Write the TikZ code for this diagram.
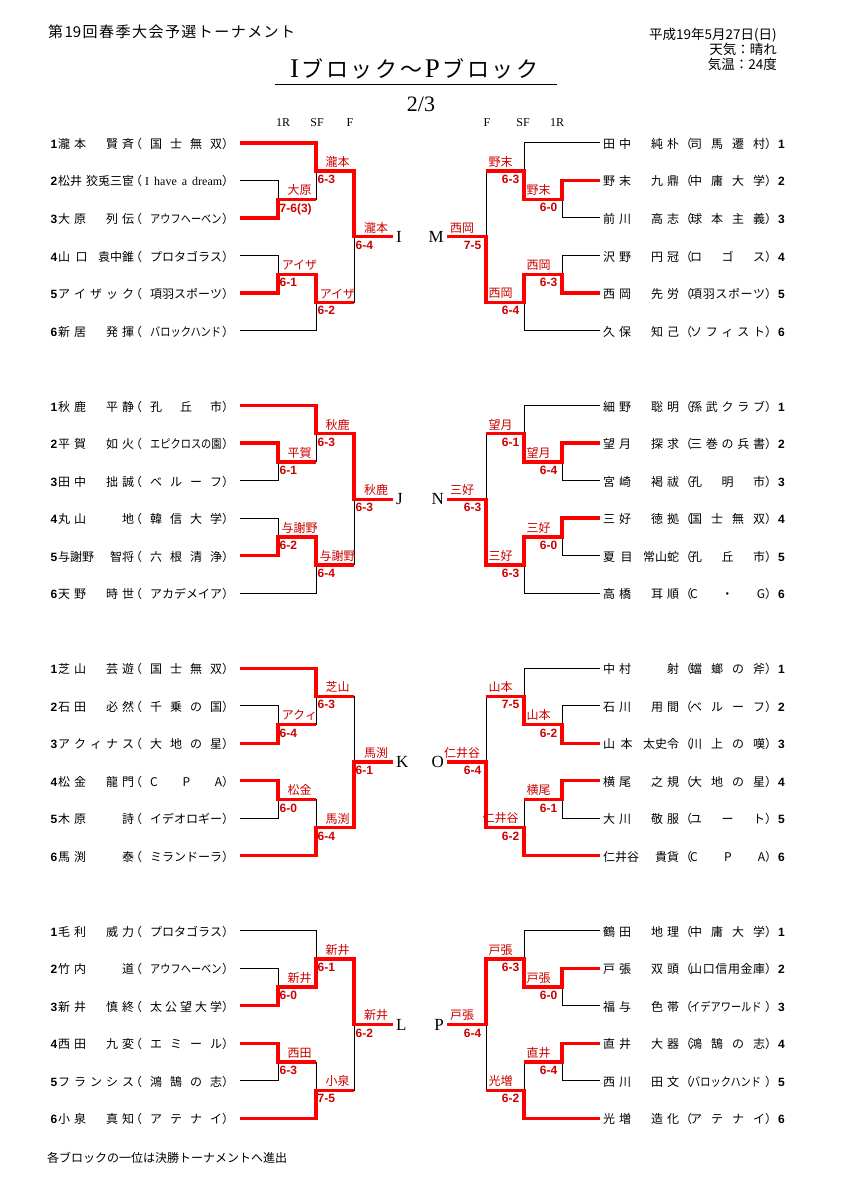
\documentclass[tikz,border=0pt]{standalone}
\usepackage{fontspec}
\usepackage{graphicx}
\setmainfont{Noto Sans CJK JP}
\newfontfamily\jp{Noto Sans CJK JP}
\newfontfamily\numfont{Liberation Sans}
\newfontfamily\rmlatin{Liberation Serif}
\usetikzlibrary{positioning,calc}
\definecolor{lineRed}{HTML}{FF0000}
\definecolor{lblRed}{HTML}{CC0000}

% characters spread evenly over a fixed width
\def\distribEnd{DISTRIBEND}
\newcommand\distrib[2]{\makebox[#1pt][s]{\distribA#2\distribEnd}}
\def\distribA#1{{#1}\distribB}
\def\distribB#1{\ifx\distribEnd#1\else\hfill{#1}\expandafter\distribB\fi}
\newcommand\sev[1]{\scalebox{0.85}[1]{#1}}
\newcommand\titlelatin{\rmlatin\fontsize{27}{30}\selectfont}

\tikzset{
  player/.style={inner sep=0pt, font=\jp\fontsize{12}{14}\selectfont},
  seednum/.style={inner sep=0pt, font=\numfont\bfseries\fontsize{12}{14}\selectfont},
  winner/.style={inner sep=0pt, text=lblRed, font=\jp\fontsize{12}{14}\selectfont},
  score/.style={inner sep=0pt, text=lblRed, font=\numfont\bfseries\fontsize{12}{14}\selectfont},
  blockletter/.style={inner sep=0pt, font=\rmlatin\fontsize{17}{20}\selectfont},
  colhead/.style={inner sep=0pt, anchor=base, font=\rmlatin\fontsize{12}{14}\selectfont},
  headR/.style={inner sep=0pt, anchor=base east, font=\jp\fontsize{13.5}{16}\selectfont},
  thinline/.style={draw=black, line width=1pt},
  redline/.style={draw=lineRed, line width=3.3pt, line join=miter}
}

% one half of a block: #1 prefix, #2 1 = left / -1 = right, #3 top row
\newcommand\bracketHalf[3]{%
  \pgfmathsetmacro\colA{420-(#2)*180}%
  \pgfmathsetmacro\colB{420-(#2)*142}%
  \pgfmathsetmacro\colC{420-(#2)*104}%
  \pgfmathsetmacro\colD{420-(#2)*66}%
  \pgfmathsetmacro\colE{420-(#2)*27}%
  \coordinate (#1-p1) at (\colA,#3);
  \coordinate (#1-p2) at (\colA,#3+37.5);
  \coordinate (#1-p3) at (\colA,#3+75);
  \coordinate (#1-p4) at (\colA,#3+112.5);
  \coordinate (#1-p5) at (\colA,#3+150);
  \coordinate (#1-p6) at (\colA,#3+187.5);
  \coordinate (#1-q1) at (\colC,#3);
  \coordinate (#1-q2) at (\colB,#3+37.5);
  \coordinate (#1-q3) at (\colB,#3+75);
  \coordinate (#1-q4) at (\colB,#3+112.5);
  \coordinate (#1-q5) at (\colB,#3+150);
  \coordinate (#1-q6) at (\colC,#3+187.5);
  \coordinate (#1-a) at (\colB,#3+56.25);
  \coordinate (#1-a2) at (\colC,#3+56.25);
  \coordinate (#1-b) at (\colB,#3+131.25);
  \coordinate (#1-b2) at (\colC,#3+131.25);
  \coordinate (#1-sa) at (\colC,#3+28.125);
  \coordinate (#1-sa2) at (\colD,#3+28.125);
  \coordinate (#1-sb) at (\colC,#3+159.375);
  \coordinate (#1-sb2) at (\colD,#3+159.375);
  \coordinate (#1-f) at (\colD,#3+93.75);
  \coordinate (#1-f2) at (\colE,#3+93.75);
  \coordinate (#1-am) at ($(#1-a)!0.5!(#1-a2)$);
  \coordinate (#1-bm) at ($(#1-b)!0.5!(#1-b2)$);
  \coordinate (#1-sam) at ($(#1-sa)!0.5!(#1-sa2)$);
  \coordinate (#1-sbm) at ($(#1-sb)!0.5!(#1-sb2)$);
  \coordinate (#1-fm) at ($(#1-f)!0.5!(#1-f2)$);
  \draw[thinline] (#1-p1) -- (#1-q1) -- (#1-a2) -- (#1-a);
  \draw[thinline] (#1-p2) -- (#1-q2) -- (#1-q3) -- (#1-p3);
  \draw[thinline] (#1-p4) -- (#1-q4) -- (#1-q5) -- (#1-p5);
  \draw[thinline] (#1-b) -- (#1-b2) -- (#1-q6) -- (#1-p6);
  \draw[thinline] (#1-sa) -- (#1-sa2) -- (#1-sb2) -- (#1-sb);
  \draw[thinline] (#1-f) -- (#1-f2);
}

% winners: #2 1R-A row, #3 1R-B row, #4 SF-A, #5 SF-B, #6 F (t = upper, b = lower)
\newcommand\redPaths[6]{%
  \draw[redline] (#1-p#2) -- (#1-q#2) -- (#1-a) -- (#1-a2);
  \draw[redline] (#1-p#3) -- (#1-q#3) -- (#1-b) -- (#1-b2);
  \if t#4\draw[redline] (#1-p1) -- (#1-q1) -- (#1-sa) -- (#1-sa2);
  \else\draw[redline] (#1-a) -- (#1-a2) -- (#1-sa) -- (#1-sa2);\fi
  \if t#5\draw[redline] (#1-b) -- (#1-b2) -- (#1-sb) -- (#1-sb2);
  \else\draw[redline] (#1-p6) -- (#1-q6) -- (#1-sb) -- (#1-sb2);\fi
  \if t#6\draw[redline] (#1-sa) -- (#1-sa2) -- (#1-f) -- (#1-f2);
  \else\draw[redline] (#1-sb) -- (#1-sb2) -- (#1-f) -- (#1-f2);\fi
}

\newcommand\resL[4]{%
  \node[winner, above=3.4pt of #1-#2m, xshift=2.5pt] (#1-#2w) {#3};
  \node[score, below right=4pt and 1.5pt of #1-#2] (#1-#2s) {#4};
}
\newcommand\resR[4]{%
  \node[winner, above=3.4pt of #1-#2m, xshift=-4.5pt] (#1-#2w) {#3};
  \node[score, below left=4pt and 4.5pt of #1-#2] (#1-#2s) {#4};
}

\newcommand\playerL[4]{%
  \node[seednum, anchor=base east] (#1-s#2) at ([shift={(-182.5pt,-5.5pt)}]#1-p#2) {#2};
  \node[player, anchor=base west] (#1-n#2) at ([shift={(-182pt,-5.5pt)}]#1-p#2) {\distrib{76}{#3}};
  \node[player, anchor=base west] (#1-o#2) at ([shift={(-110pt,-5.5pt)}]#1-p#2) {（\hspace{8pt}\distrib{72}{#4}）};
}
\newcommand\playerR[4]{%
  \node[player, anchor=base west] (#1-n#2) at ([shift={(3pt,-5.5pt)}]#1-p#2) {\distrib{76}{#3}};
  \node[player, anchor=base west] (#1-o#2) at ([shift={(80pt,-5.5pt)}]#1-p#2) {（\hspace{-2pt}\distrib{75}{#4}）};
  \node[seednum, anchor=base west] (#1-s#2) at ([shift={(178pt,-5.5pt)}]#1-p#2) {#2};
}

\begin{document}
\begin{tikzpicture}[x=1pt, y=-1pt]
\useasboundingbox (0,0) rectangle (841,1190);

\node[player, anchor=base west, font=\jp\fontsize{15}{17}\selectfont] (event) at (48,37.7) {\distrib{247}{第{19}回春季大会予選トーナメント}};
\node[headR] (date) at (777,40) {平成19年5月27日(日)};
\node[headR] (weather) at (777,55) {天気：晴れ};
\node[headR] (temp) at (777,70) {気温：24度};
\node[player, anchor=base west, font=\jp\fontsize{22}{24}\selectfont] (title) at (290,78) {\distrib{248}{{\titlelatin I}ブロック～{\titlelatin P}ブロック}};
\coordinate (ulA) at (275,85);
\coordinate (ulB) at (557,85);
\draw[thinline] (ulA) -- (ulB);
\node[inner sep=0pt, anchor=base, font=\rmlatin\fontsize{22}{24}\selectfont] (page) at (421,112) {2/3};
\node[colhead] (hL1) at (283,127) {1R};
\node[colhead] (hL2) at (317,127) {SF};
\node[colhead] (hL3) at (350,127) {F};
\node[colhead] (hR3) at (487,127) {F};
\node[colhead] (hR2) at (523,127) {SF};
\node[colhead] (hR1) at (557,127) {1R};

% I / M
\bracketHalf{I}{1}{143}
\playerL{I}{1}{瀧本　賢斉}{国士無双}
\playerL{I}{2}{{松井}{狡兎三宦}}{{\rmlatin\hspace{-5pt}I have a dream}}
\playerL{I}{3}{大原　列伝}{{\sev{アウフヘーベン}}}
\playerL{I}{4}{山口\null{袁中錐}}{プロタゴラス}
\playerL{I}{5}{アイザック}{項羽スポーツ}
\playerL{I}{6}{新居　発揮}{{\sev{バロックハンド}}}
\redPaths{I}{3}{5}{t}{t}{t}
\resL{I}{a}{大原}{7-6(3)}
\resL{I}{b}{アイザ}{6-1}
\resL{I}{sa}{瀧本}{6-3}
\resL{I}{sb}{アイザ}{6-2}
\resL{I}{f}{瀧本}{6-4}
\node[blockletter, right=3pt of I-f2] (I-lbl) {I};

\bracketHalf{M}{-1}{143}
\playerR{M}{1}{田中　純朴}{司馬遷村}
\playerR{M}{2}{野末　九鼎}{中庸大学}
\playerR{M}{3}{前川　高志}{球本主義}
\playerR{M}{4}{沢野　円冠}{ロゴス}
\playerR{M}{5}{西岡　先労}{項羽スポーツ}
\playerR{M}{6}{久保　知己}{ソフィスト}
\redPaths{M}{2}{5}{b}{t}{b}
\resR{M}{a}{野末}{6-0}
\resR{M}{b}{西岡}{6-3}
\resR{M}{sa}{野末}{6-3}
\resR{M}{sb}{西岡}{6-4}
\resR{M}{f}{西岡}{7-5}
\node[blockletter, left=3pt of M-f2] (M-lbl) {M};

% J / N
\bracketHalf{J}{1}{405.6}
\playerL{J}{1}{秋鹿　平静}{孔丘市}
\playerL{J}{2}{平賀　如火}{{\sev{エピクロスの園}}}
\playerL{J}{3}{田中　拙誠}{ベルーフ}
\playerL{J}{4}{丸山　　地}{韓信大学}
\playerL{J}{5}{{与謝野}{智将}}{六根清浄}
\playerL{J}{6}{天野　時世}{アカデメイア}
\redPaths{J}{2}{5}{t}{t}{t}
\resL{J}{a}{平賀}{6-1}
\resL{J}{b}{与謝野}{6-2}
\resL{J}{sa}{秋鹿}{6-3}
\resL{J}{sb}{与謝野}{6-4}
\resL{J}{f}{秋鹿}{6-3}
\node[blockletter, right=3pt of J-f2] (J-lbl) {J};

\bracketHalf{N}{-1}{405.6}
\playerR{N}{1}{細野　聡明}{孫武クラブ}
\playerR{N}{2}{望月　探求}{三巻の兵書}
\playerR{N}{3}{宮崎　褐祓}{孔明市}
\playerR{N}{4}{三好　徳拠}{国士無双}
\playerR{N}{5}{夏目\null{常山蛇}}{孔丘市}
\playerR{N}{6}{高橋　耳順}{C・G}
\redPaths{N}{2}{4}{b}{t}{b}
\resR{N}{a}{望月}{6-4}
\resR{N}{b}{三好}{6-0}
\resR{N}{sa}{望月}{6-1}
\resR{N}{sb}{三好}{6-3}
\resR{N}{f}{三好}{6-3}
\node[blockletter, left=3pt of N-f2] (N-lbl) {N};

% K / O
\bracketHalf{K}{1}{668.2}
\playerL{K}{1}{芝山　芸遊}{国士無双}
\playerL{K}{2}{石田　必然}{千乗の国}
\playerL{K}{3}{アクィナス}{大地の星}
\playerL{K}{4}{松金　龍門}{CPA}
\playerL{K}{5}{木原　　詩}{イデオロギー}
\playerL{K}{6}{馬渕　　泰}{ミランドーラ}
\redPaths{K}{3}{4}{t}{b}{b}
\resL{K}{a}{アクィ}{6-4}
\resL{K}{b}{松金}{6-0}
\resL{K}{sa}{芝山}{6-3}
\resL{K}{sb}{馬渕}{6-4}
\resL{K}{f}{馬渕}{6-1}
\node[blockletter, right=3pt of K-f2] (K-lbl) {K};

\bracketHalf{O}{-1}{668.2}
\playerR{O}{1}{中村　　射}{蟷螂の斧}
\playerR{O}{2}{石川　用間}{ベルーフ}
\playerR{O}{3}{山本\null{太史令}}{川上の嘆}
\playerR{O}{4}{横尾　之規}{大地の星}
\playerR{O}{5}{大川　敬服}{ユート}
\playerR{O}{6}{{仁井谷}{貴貨}}{CPA}
\redPaths{O}{3}{4}{b}{b}{b}
\resR{O}{a}{山本}{6-2}
\resR{O}{b}{横尾}{6-1}
\resR{O}{sa}{山本}{7-5}
\resR{O}{sb}{仁井谷}{6-2}
\resR{O}{f}{仁井谷}{6-4}
\node[blockletter, left=3pt of O-f2] (O-lbl) {O};

% L / P
\bracketHalf{L}{1}{930.8}
\playerL{L}{1}{毛利　威力}{プロタゴラス}
\playerL{L}{2}{竹内　　道}{{\sev{アウフヘーベン}}}
\playerL{L}{3}{新井　慎終}{太公望大学}
\playerL{L}{4}{西田　九変}{エミール}
\playerL{L}{5}{フランシス}{鴻鵠の志}
\playerL{L}{6}{小泉　真知}{アテナイ}
\redPaths{L}{3}{4}{b}{b}{t}
\resL{L}{a}{新井}{6-0}
\resL{L}{b}{西田}{6-3}
\resL{L}{sa}{新井}{6-1}
\resL{L}{sb}{小泉}{7-5}
\resL{L}{f}{新井}{6-2}
\node[blockletter, right=3pt of L-f2] (L-lbl) {L};

\bracketHalf{P}{-1}{930.8}
\playerR{P}{1}{鶴田　地理}{中庸大学}
\playerR{P}{2}{戸張　双頭}{山口信用金庫}
\playerR{P}{3}{福与　色帯}{{\sev{イデアワールド}}}
\playerR{P}{4}{直井　大器}{鴻鵠の志}
\playerR{P}{5}{西川　田文}{{\sev{バロックハンド}}}
\playerR{P}{6}{光増　造化}{アテナイ}
\redPaths{P}{2}{4}{b}{b}{t}
\resR{P}{a}{戸張}{6-0}
\resR{P}{b}{直井}{6-4}
\resR{P}{sa}{戸張}{6-3}
\resR{P}{sb}{光増}{6-2}
\resR{P}{f}{戸張}{6-4}
\node[blockletter, left=3pt of P-f2] (P-lbl) {P};

\node[player, anchor=base west] (note) at (47,1162.6) {各ブロックの一位は決勝トーナメントへ進出};
\end{tikzpicture}
\end{document}
